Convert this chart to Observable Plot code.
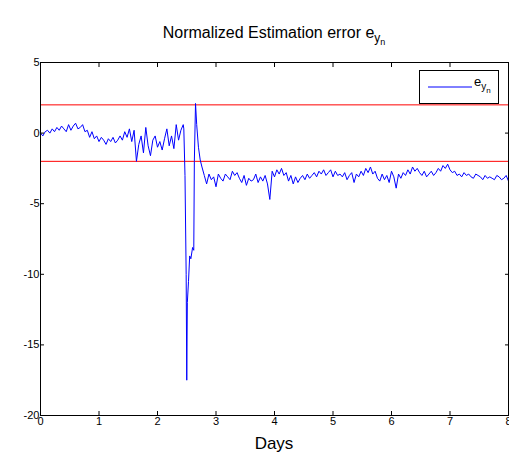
<!DOCTYPE html>
<html><head><meta charset="utf-8">
<script src="https://cdn.jsdelivr.net/npm/d3@7"></script>
<script src="https://cdn.jsdelivr.net/npm/@observablehq/plot@0.6"></script>
<style>body{margin:0;background:#fff;font-family:"Liberation Sans",Arial,sans-serif}</style>
</head><body><div id="c" style="position:relative;width:509px;height:457px;overflow:hidden"></div>
<script>
const step = 0.04;
const seg1Start = 0;
const seg1 = [0,-0.2,0.1,0.2,0,0.3,0.1,0.4,0.2,0.5,0.3,0.1,0.6,0.2,0.5,0.7,0.3,0.4,0.6,0.1,0.2,-0.3,0.1,-0.4,-0.2,-0.6,-0.3,-0.5,-0.8,-0.4,-0.6,-0.3,-0.7,-0.5,-0.2,-0.5,0.1,-0.3,0.3,-0.6,0.2,-2,-0.8,-0.2,-1.4,0.4,-0.9,-1.6,-0.5,-0.2,-1,-0.6,-1.2,-0.4,0.3,-0.9,-0.2,-1.1,0.6,-0.5,0.2,0.6];
const transDays = [2.45,2.47,2.49,2.5,2.51,2.53,2.55,2.57,2.6,2.62,2.63,2.65,2.67,2.7,2.73,2.76,2.8];
const transVals = [0.3,-3,-10,-17.5,-12,-10.5,-8.7,-8.9,-8.1,-8.3,-2,2.1,0.6,-1,-1.9,-2.4,-3];
const seg2Start = 2.84;
const seg2 = [-3.6,-2.9,-3.3,-3.1,-3.8,-2.9,-3.2,-3.4,-2.9,-3.1,-3.3,-2.7,-3,-2.8,-3.2,-3.5,-3,-3.7,-3.2,-3.4,-3.3,-2.9,-3.5,-3.1,-3.4,-3,-3.6,-4.7,-2.7,-3.1,-2.6,-2.9,-2.5,-3,-2.8,-3.4,-3,-3.6,-3.1,-3.5,-3.2,-3,-3.3,-2.9,-3.2,-3,-2.8,-3.1,-2.7,-2.9,-2.6,-3,-2.8,-2.6,-3.1,-2.7,-3,-2.9,-3.1,-2.8,-3.3,-3,-2.8,-3.5,-2.9,-3.1,-2.7,-3,-2.5,-2.8,-2.4,-2.9,-2.7,-3.2,-3.4,-2.9,-3.3,-3,-3.5,-2.7,-3.1,-3.9,-2.9,-3.2,-2.8,-3,-2.6,-2.9,-2.4,-2.7,-2.5,-2.8,-3,-2.7,-3.1,-2.9,-2.7,-3,-2.8,-2.5,-2.7,-2.3,-2.5,-2.2,-2.6,-2.8,-2.7,-3,-2.9,-3.1,-2.8,-3,-2.9,-3.1,-3.2,-2.9,-3,-3.1,-3.3,-3,-3.2,-3.1,-3.2,-3.3,-3,-3.1,-3.3,-3.2,-3,-3.4];
const bounds = [2,-2];
const title = "Normalized Estimation error e";

const data = [
  ...seg1.map((v,i)=>({d:seg1Start+i*step,v})),
  ...transDays.map((d,i)=>({d,v:transVals[i]})),
  ...seg2.map((v,i)=>({d:seg2Start+i*step,v}))
].filter(p=>p.d<=8);

const plot = Plot.plot({
  width:509, height:457,
  marginLeft:40, marginRight:1, marginTop:62, marginBottom:42,
  style:{fontFamily:"Liberation Sans, Arial, sans-serif", fontSize:"11px", color:"#000", overflow:"visible"},
  x:{domain:[0,8], label:null},
  y:{domain:[-20,5], label:null},
  marks:[
    Plot.ruleY(bounds,{stroke:"red", strokeWidth:1}),
    Plot.line(data,{x:"d",y:"v",stroke:"#0000ff",strokeWidth:1}),
    Plot.axisX({anchor:"top", ticks:d3.range(0,9), tickSize:-4, tickFormat:()=>""}),
    Plot.axisY({anchor:"right", ticks:[-20,-15,-10,-5,0,5], tickSize:-4, tickFormat:()=>""}),
    Plot.axisX({anchor:"bottom", ticks:d3.range(0,9), tickSize:-4, tickPadding:6, tickFormat:d=>d}),
    Plot.axisY({anchor:"left", ticks:[-20,-15,-10,-5,0,5], tickSize:-4, tickPadding:5, tickFormat:d=>d}),
    Plot.frame({stroke:"#000"})
  ]
});
document.getElementById("c").appendChild(plot);
const t=document.createElement("div");
t.style.cssText="position:absolute;left:0;width:548px;top:24px;text-align:center;font-size:16px";
t.innerHTML=title+"<sub style='font-size:12px'>y<sub style='font-size:9px'>n</sub></sub>";
document.getElementById("c").appendChild(t);
const xl=document.createElement("div");
xl.style.cssText="position:absolute;left:0;width:548px;top:434px;text-align:center;font-size:17px";
xl.textContent="Days";
document.getElementById("c").appendChild(xl);
const lg=document.createElement("div");
lg.style.cssText="position:absolute;left:419px;top:70px;width:78px;height:32px;border:1px solid #000;background:#fff;font-size:13px";
lg.innerHTML="<svg style='position:absolute;left:8px;top:12px' width='44' height='8'><line x1='0' y1='4' x2='44' y2='4' stroke='#0000ff' stroke-width='1'/></svg><div style='position:absolute;left:54px;top:3px'>e<sub style='font-size:10px'>y<sub style='font-size:8px'>n</sub></sub></div>";
document.getElementById("c").appendChild(lg);
</script></body></html>
